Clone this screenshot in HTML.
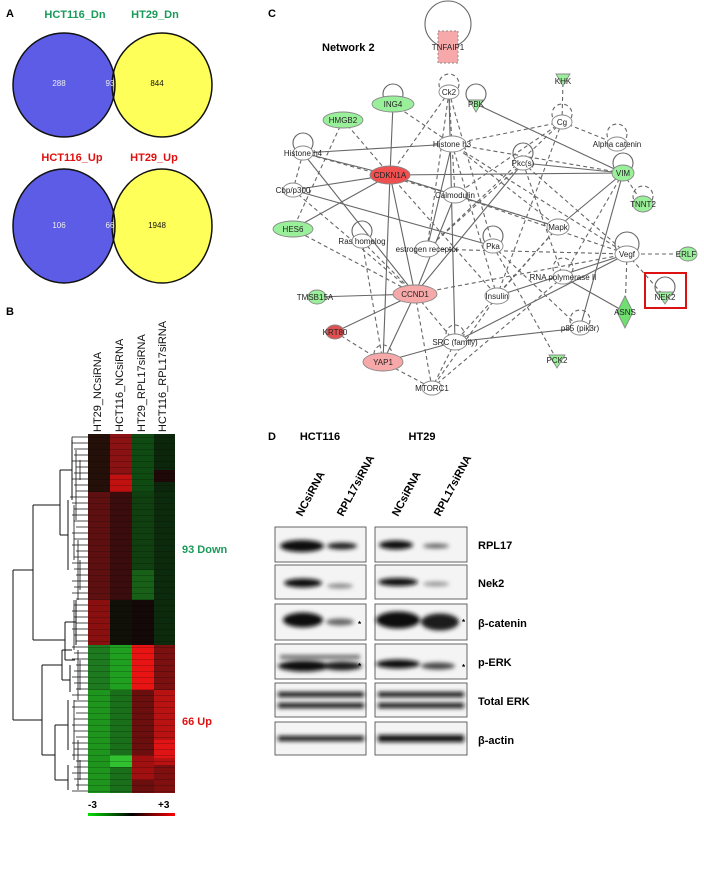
<!DOCTYPE html>
<html><head><meta charset="utf-8"><style>
body{margin:0;background:#fff;width:704px;height:896px;overflow:hidden}
svg{display:block}
text{font-family:"Liberation Sans",Arial,sans-serif}
</style></head><body>
<svg width="704" height="896" viewBox="0 0 704 896" xmlns="http://www.w3.org/2000/svg">
<defs>
<filter id="bl" x="-20%" y="-80%" width="140%" height="260%"><feGaussianBlur stdDeviation="2"/></filter>
<pattern id="rows" width="10" height="6" patternUnits="userSpaceOnUse"><rect width="10" height="6" fill="none"/><line x1="0" y1="5.6" x2="10" y2="5.6" stroke="#000" stroke-opacity="0.25" stroke-width="0.8"/></pattern>
<linearGradient id="cb"><stop offset="0" stop-color="#00e000"/><stop offset="0.5" stop-color="#000"/><stop offset="1" stop-color="#ff0000"/></linearGradient>
</defs>

<!-- Panel A -->
<text x="6" y="17" font-size="11" font-weight="bold">A</text>
<text x="75" y="18" font-size="11" font-weight="bold" fill="#1a9a5a" text-anchor="middle">HCT116_Dn</text>
<text x="155" y="18" font-size="11" font-weight="bold" fill="#1a9a5a" text-anchor="middle">HT29_Dn</text>
<ellipse cx="64" cy="85" rx="51" ry="52" fill="#5c5ce6"/>
<ellipse cx="162" cy="85" rx="50" ry="52" fill="#ffff5a"/>
<clipPath id="c1"><ellipse cx="64" cy="85" rx="51" ry="52"/></clipPath>
<ellipse cx="162" cy="85" rx="50" ry="52" fill="#b8b486" clip-path="url(#c1)"/>
<ellipse cx="64" cy="85" rx="51" ry="52" fill="none" stroke="#111" stroke-width="1.5"/>
<ellipse cx="162" cy="85" rx="50" ry="52" fill="none" stroke="#111" stroke-width="1.5"/>
<text x="59" y="86" font-size="8" fill="#eee" text-anchor="middle">288</text>
<text x="110" y="86" font-size="8" fill="#eee" text-anchor="middle">93</text>
<text x="157" y="86" font-size="8" fill="#111" text-anchor="middle">844</text>

<text x="72" y="161" font-size="11" font-weight="bold" fill="#e01010" text-anchor="middle">HCT116_Up</text>
<text x="154" y="161" font-size="11" font-weight="bold" fill="#e01010" text-anchor="middle">HT29_Up</text>
<ellipse cx="64" cy="226" rx="51" ry="57" fill="#5c5ce6"/>
<ellipse cx="162" cy="226" rx="50" ry="57" fill="#ffff5a"/>
<clipPath id="c2"><ellipse cx="64" cy="226" rx="51" ry="57"/></clipPath>
<ellipse cx="162" cy="226" rx="50" ry="57" fill="#b8b486" clip-path="url(#c2)"/>
<ellipse cx="64" cy="226" rx="51" ry="57" fill="none" stroke="#111" stroke-width="1.5"/>
<ellipse cx="162" cy="226" rx="50" ry="57" fill="none" stroke="#111" stroke-width="1.5"/>
<text x="59" y="228" font-size="8" fill="#eee" text-anchor="middle">106</text>
<text x="110" y="228" font-size="8" fill="#eee" text-anchor="middle">66</text>
<text x="157" y="228" font-size="8" fill="#111" text-anchor="middle">1948</text>

<!-- Panel B -->
<text x="6" y="315" font-size="11" font-weight="bold">B</text>
<g font-size="11" fill="#111">
<text transform="translate(101,432) rotate(-90)">HT29_NCsiRNA</text>
<text transform="translate(123,432) rotate(-90)">HCT116_NCsiRNA</text>
<text transform="translate(145,432) rotate(-90)">HT29_RPL17siRNA</text>
<text transform="translate(166,432) rotate(-90)">HCT116_RPL17siRNA</text>
</g>
<g>
<rect x="88" y="434" width="22" height="58" fill="#241008"/>
<rect x="110" y="434" width="22" height="58" fill="#8a1212"/>
<rect x="132" y="434" width="22" height="58" fill="#0f4a12"/>
<rect x="154" y="434" width="21" height="58" fill="#0c260c"/>
<rect x="110" y="475" width="22" height="17" fill="#c01010"/>
<rect x="154" y="470" width="21" height="12" fill="#200808"/>
<rect x="88" y="492" width="22" height="153" fill="#5e1010"/>
<rect x="110" y="492" width="22" height="108" fill="#3a0c0c"/>
<rect x="110" y="600" width="22" height="45" fill="#101008"/>
<rect x="132" y="492" width="22" height="153" fill="#104010"/>
<rect x="132" y="570" width="22" height="30" fill="#186018"/>
<rect x="132" y="600" width="22" height="45" fill="#140808"/>
<rect x="154" y="492" width="21" height="153" fill="#0c2a0c"/>
<rect x="88" y="600" width="22" height="45" fill="#8a1010"/>
<rect x="88" y="645" width="22" height="45" fill="#1e7a1e"/>
<rect x="110" y="645" width="22" height="45" fill="#20a020"/>
<rect x="132" y="645" width="22" height="45" fill="#e81414"/>
<rect x="154" y="645" width="21" height="45" fill="#7a1010"/>
<rect x="88" y="690" width="22" height="103" fill="#1e961e"/>
<rect x="110" y="690" width="22" height="103" fill="#1a701a"/>
<rect x="110" y="755" width="22" height="12" fill="#30c030"/>
<rect x="132" y="690" width="22" height="103" fill="#6a0e0e"/>
<rect x="132" y="755" width="22" height="25" fill="#a01010"/>
<rect x="154" y="690" width="21" height="103" fill="#b81212"/>
<rect x="154" y="740" width="21" height="18" fill="#e01414"/>
<rect x="154" y="765" width="21" height="28" fill="#801010"/>
<rect x="88" y="434" width="87" height="359" fill="url(#rows)"/>
</g>
<rect x="88" y="813" width="87" height="3" fill="url(#cb)"/>
<text x="88" y="808" font-size="10" font-weight="bold">-3</text>
<text x="158" y="808" font-size="10" font-weight="bold">+3</text>
<text x="182" y="553" font-size="11" font-weight="bold" fill="#1a9a5a">93 Down</text>
<text x="182" y="725" font-size="11" font-weight="bold" fill="#e01010">66 Up</text>
<g stroke="#111" stroke-width="1" fill="none">
<path d="M13,570 V720 M13,570 H33 M13,720 H42"/>
<path d="M33,505 V640 M33,505 H60 M33,640 H65"/>
<path d="M60,470 V535 M60,470 H72 M60,535 H68"/>
<path d="M65,622 V660 M65,622 H76 M65,660 H75"/>
<path d="M42,665 V755 M42,665 H62 M42,755 H55"/>
<path d="M55,725 V780 M55,725 H68 M55,780 H68"/>
<path d="M62,650 V680 M62,650 H72 M62,680 H70"/>
<path d="M68,500 V570 M68,700 V750 M68,765 V790 M72,440 V500 M76,600 V645 M70,665 V692"/>
</g>
<g stroke="#111" stroke-width="0.8">
<path d="M72,437H88M72,443H88M74,449H88M74,455H88M72,461H88M76,467H88M74,473H88M72,479H88M74,485H88M76,491H88M70,497H88M72,503H88M74,509H88M72,515H88M74,521H88M76,527H88M72,533H88M74,539H88M72,545H88M76,551H88M74,557H88M72,563H88M74,569H88M76,575H88M72,581H88M74,587H88M72,593H88M76,599H88M74,605H88M72,611H88M74,617H88M76,623H88M72,629H88M74,635H88M76,641H88M72,647H88M74,653H88M72,659H88M76,665H88M74,671H88M72,677H88M74,683H88M76,689H88M72,695H88M74,701H88M72,707H88M76,713H88M74,719H88M72,725H88M74,731H88M76,737H88M72,743H88M74,749H88M72,755H88M76,761H88M74,767H88M72,773H88M74,779H88M76,785H88M72,791H88"/>
<path d="M72,437V500M76,450V520M74,505V560M78,540V600M74,600V650M78,650V700M74,700V760M78,740V790M80,460V480M80,560V590M80,660V690M80,760V780"/>
</g>

<!-- Panel C -->
<text x="268" y="17" font-size="11" font-weight="bold">C</text>
<text x="322" y="51" font-size="11" font-weight="bold">Network 2</text>
<g stroke="#666" stroke-width="1.1" fill="none">
<circle cx="448" cy="24" r="23"/>
<g stroke-dasharray="4,3">
<line x1="449" y1="92" x2="390" y2="175"/><line x1="449" y1="92" x2="455" y2="195"/><line x1="449" y1="92" x2="427" y2="249"/>
<line x1="449" y1="92" x2="493" y2="246"/><line x1="393" y1="104" x2="452" y2="144"/><line x1="303" y1="153" x2="293" y2="190"/>
<line x1="343" y1="120" x2="390" y2="175"/><line x1="562" y1="122" x2="452" y2="144"/><line x1="562" y1="122" x2="617" y2="144"/>
<line x1="562" y1="122" x2="563" y2="80"/><line x1="562" y1="122" x2="427" y2="249"/><line x1="562" y1="122" x2="497" y2="296"/>
<line x1="452" y1="144" x2="623" y2="173"/><line x1="452" y1="144" x2="558" y2="227"/><line x1="452" y1="144" x2="627" y2="254"/>
<line x1="523" y1="163" x2="427" y2="249"/><line x1="523" y1="163" x2="627" y2="254"/><line x1="523" y1="163" x2="563" y2="277"/>
<line x1="390" y1="175" x2="558" y2="227"/><line x1="390" y1="175" x2="497" y2="296"/><line x1="293" y1="190" x2="415" y2="294"/>
<line x1="293" y1="229" x2="415" y2="294"/><line x1="362" y1="241" x2="415" y2="294"/><line x1="362" y1="241" x2="383" y2="362"/>
<line x1="427" y1="249" x2="627" y2="254"/><line x1="493" y1="246" x2="580" y2="328"/><line x1="493" y1="246" x2="557" y2="360"/>
<line x1="627" y1="254" x2="683" y2="254"/><line x1="627" y1="254" x2="625" y2="312"/><line x1="627" y1="254" x2="665" y2="297"/>
<line x1="627" y1="254" x2="415" y2="294"/><line x1="558" y1="227" x2="455" y2="342"/><line x1="558" y1="227" x2="497" y2="296"/>
<line x1="415" y1="294" x2="432" y2="388"/><line x1="383" y1="362" x2="432" y2="388"/><line x1="455" y1="342" x2="432" y2="388"/>
<line x1="497" y1="296" x2="432" y2="388"/><line x1="563" y1="277" x2="432" y2="388"/><line x1="623" y1="173" x2="643" y2="204"/>
<line x1="455" y1="195" x2="627" y2="254"/><line x1="623" y1="173" x2="563" y2="277"/><line x1="335" y1="332" x2="383" y2="362"/>
<line x1="455" y1="342" x2="415" y2="294"/><line x1="562" y1="122" x2="455" y2="195"/>
<line x1="303" y1="153" x2="455" y2="195"/><line x1="343" y1="120" x2="293" y2="229"/><line x1="452" y1="144" x2="497" y2="296"/>
<circle cx="449" cy="84" r="10"/><circle cx="562" cy="114" r="10"/><circle cx="617" cy="134" r="10"/><circle cx="643" cy="196" r="10"/><circle cx="563" cy="268" r="10"/><circle cx="580" cy="320" r="10"/><circle cx="455" cy="334" r="9"/><circle cx="383" cy="354" r="9"/>
</g>
<g>
<line x1="393" y1="104" x2="390" y2="175"/><line x1="476" y1="104" x2="623" y2="173"/><line x1="303" y1="153" x2="452" y2="144"/>
<line x1="390" y1="175" x2="623" y2="173"/><line x1="390" y1="175" x2="303" y2="153"/><line x1="293" y1="190" x2="390" y2="175"/>
<line x1="293" y1="229" x2="390" y2="175"/><line x1="303" y1="153" x2="415" y2="294"/><line x1="390" y1="175" x2="415" y2="294"/>
<line x1="390" y1="175" x2="383" y2="362"/><line x1="449" y1="92" x2="455" y2="342"/><line x1="455" y1="195" x2="415" y2="294"/>
<line x1="523" y1="163" x2="415" y2="294"/><line x1="315" y1="297" x2="415" y2="294"/><line x1="335" y1="332" x2="415" y2="294"/>
<line x1="383" y1="362" x2="415" y2="294"/><line x1="455" y1="342" x2="580" y2="328"/><line x1="580" y1="328" x2="623" y2="173"/>
<line x1="497" y1="296" x2="627" y2="254"/><line x1="455" y1="342" x2="627" y2="254"/><line x1="558" y1="227" x2="623" y2="173"/>
<line x1="563" y1="277" x2="625" y2="312"/><line x1="390" y1="175" x2="558" y2="227"/><line x1="293" y1="190" x2="493" y2="246"/>
<line x1="383" y1="362" x2="455" y2="342"/><line x1="452" y1="144" x2="427" y2="249"/><line x1="623" y1="173" x2="523" y2="163"/>
<circle cx="393" cy="94" r="10" fill="none"/><circle cx="476" cy="94" r="10" fill="none"/><circle cx="303" cy="143" r="10" fill="none"/><circle cx="523" cy="153" r="10" fill="none"/><circle cx="623" cy="163" r="10" fill="none"/><circle cx="627" cy="244" r="12" fill="none"/><circle cx="665" cy="287" r="10" fill="none"/><circle cx="362" cy="231" r="10" fill="none"/><circle cx="493" cy="236" r="10" fill="none"/>
</g>
</g>
<g stroke="#888" stroke-width="0.9">
<rect x="438" y="31" width="20" height="32" fill="#f7a8a8" stroke-dasharray="2,2"/>
<g fill="#fff">
<ellipse cx="449" cy="92" rx="10" ry="7"/><ellipse cx="562" cy="122" rx="10" ry="7"/><ellipse cx="452" cy="144" rx="14" ry="8"/>
<ellipse cx="617" cy="144" rx="10" ry="7"/><ellipse cx="303" cy="153" rx="10" ry="7"/><ellipse cx="523" cy="163" rx="10" ry="7"/>
<ellipse cx="293" cy="190" rx="10" ry="7"/><ellipse cx="455" cy="195" rx="12" ry="8"/><ellipse cx="558" cy="227" rx="11" ry="8"/>
<ellipse cx="362" cy="241" rx="10" ry="7"/><ellipse cx="427" cy="249" rx="12" ry="8"/><ellipse cx="493" cy="246" rx="10" ry="7"/>
<ellipse cx="627" cy="254" rx="12" ry="8"/><ellipse cx="563" cy="277" rx="10" ry="7"/><ellipse cx="497" cy="296" rx="12" ry="8"/>
<ellipse cx="580" cy="328" rx="10" ry="7"/><ellipse cx="455" cy="342" rx="12" ry="8"/><ellipse cx="432" cy="388" rx="10" ry="7"/>
</g>
<g fill="#9af09a">
<ellipse cx="393" cy="104" rx="21" ry="8"/><ellipse cx="343" cy="120" rx="20" ry="8"/><ellipse cx="623" cy="173" rx="11" ry="8"/>
<ellipse cx="643" cy="204" rx="10" ry="8"/><ellipse cx="293" cy="229" rx="20" ry="8"/><ellipse cx="688" cy="254" rx="9" ry="7"/>
<ellipse cx="317" cy="297" rx="9" ry="7"/>
<path d="M556,74H570L563,86Z"/><path d="M469,100H483L476,112Z"/><path d="M657,292H673L665,304Z"/><path d="M549,355H565L557,368Z"/>
<path d="M625,296L633,312L625,328L617,312Z" fill="#6fe06f"/>
</g>
<ellipse cx="390" cy="175" rx="20" ry="9" fill="#f05050"/>
<ellipse cx="415" cy="294" rx="22" ry="9" fill="#f7a8a8"/>
<ellipse cx="383" cy="362" rx="20" ry="9" fill="#f7a8a8"/>
<ellipse cx="335" cy="332" rx="9" ry="7" fill="#e05050"/>
</g>
<rect x="645" y="273" width="41" height="35" fill="none" stroke="#dd1111" stroke-width="2"/>
<g font-size="8" fill="#222" text-anchor="middle">
<text x="448" y="50">TNFAIP1</text><text x="449" y="95">Ck2</text><text x="563" y="84">KHK</text><text x="476" y="107">PBK</text>
<text x="393" y="107">ING4</text><text x="343" y="123">HMGB2</text><text x="562" y="125">Cg</text><text x="452" y="147">Histone h3</text>
<text x="617" y="147">Alpha catenin</text><text x="303" y="156">Histone h4</text><text x="523" y="166">Pkc(s)</text>
<text x="390" y="178">CDKN1A</text><text x="623" y="176">VIM</text><text x="293" y="193">Cbp/p300</text><text x="455" y="198">Calmodulin</text>
<text x="643" y="207">TNNT2</text><text x="293" y="232">HES6</text><text x="558" y="230">Mapk</text><text x="362" y="244">Ras homolog</text>
<text x="427" y="252">estrogen receptor</text><text x="493" y="249">Pka</text><text x="627" y="257">Vegf</text><text x="686" y="257">ERLF</text>
<text x="563" y="280">RNA polymerase II</text><text x="665" y="300">NEK2</text><text x="315" y="300">TMSB15A</text><text x="415" y="297">CCND1</text>
<text x="497" y="299">Insulin</text><text x="625" y="315">ASNS</text><text x="335" y="335">KRT80</text><text x="580" y="331">p85 (pik3r)</text>
<text x="455" y="345">SRC (family)</text><text x="383" y="365">YAP1</text><text x="557" y="363">PCK2</text><text x="432" y="391">MTORC1</text>
</g>

<!-- Panel D -->
<text x="268" y="440" font-size="11" font-weight="bold">D</text>
<text x="320" y="440" font-size="11" font-weight="bold" text-anchor="middle">HCT116</text>
<text x="422" y="440" font-size="11" font-weight="bold" text-anchor="middle">HT29</text>
<g font-size="11" font-weight="bold">
<text transform="translate(302,517) rotate(-62)">NCsiRNA</text>
<text transform="translate(343,517) rotate(-62)">RPL17siRNA</text>
<text transform="translate(398,517) rotate(-62)">NCsiRNA</text>
<text transform="translate(440,517) rotate(-62)">RPL17siRNA</text>
</g>
<g fill="#f4f4f4" stroke="#555" stroke-width="0.9">
<rect x="275" y="527" width="91" height="35"/><rect x="375" y="527" width="92" height="35"/>
<rect x="275" y="565" width="91" height="34"/><rect x="375" y="565" width="92" height="34"/>
<rect x="275" y="604" width="91" height="36"/><rect x="375" y="604" width="92" height="36"/>
<rect x="275" y="644" width="91" height="35"/><rect x="375" y="644" width="92" height="35"/>
<rect x="275" y="683" width="91" height="34"/><rect x="375" y="683" width="92" height="34"/>
<rect x="275" y="722" width="91" height="33"/><rect x="375" y="722" width="92" height="33"/>
</g>
<g fill="#111" filter="url(#bl)">
<ellipse cx="302" cy="546" rx="22" ry="6"/><ellipse cx="342" cy="546" rx="15" ry="3.5" fill="#222"/>
<ellipse cx="396" cy="545" rx="17" ry="4.5"/><ellipse cx="436" cy="546" rx="13" ry="2.5" fill="#666"/>
<ellipse cx="303" cy="583" rx="19" ry="4.5"/><ellipse cx="340" cy="586" rx="13" ry="2.5" fill="#888"/>
<ellipse cx="398" cy="582" rx="20" ry="4"/><ellipse cx="436" cy="584" rx="13" ry="2.5" fill="#999"/>
<ellipse cx="303" cy="620" rx="20" ry="7.5"/><ellipse cx="340" cy="622" rx="14" ry="3.5" fill="#666"/>
<ellipse cx="398" cy="620" rx="22" ry="8.5"/><ellipse cx="440" cy="622" rx="19" ry="8.5" fill="#1a1a1a"/>
<ellipse cx="304" cy="666" rx="26" ry="5.5"/><ellipse cx="342" cy="666" rx="20" ry="4.5" fill="#1a1a1a"/>
<rect x="280" y="655" width="80" height="4" fill="#666"/>
<ellipse cx="398" cy="664" rx="22" ry="4.5"/><ellipse cx="438" cy="666" rx="17" ry="3.5" fill="#444"/>
<rect x="278" y="692" width="86" height="5"/><rect x="278" y="703" width="86" height="5"/>
<rect x="378" y="692" width="86" height="5"/><rect x="378" y="703" width="86" height="5"/>
<rect x="278" y="736" width="86" height="5"/><rect x="378" y="735" width="86" height="7"/>
</g>
<g font-size="8" font-weight="bold"><text x="358" y="627">*</text><text x="462" y="625">*</text><text x="358" y="669">*</text><text x="462" y="670">*</text></g>
<g font-size="11" font-weight="bold">
<text x="478" y="549">RPL17</text><text x="478" y="587">Nek2</text><text x="478" y="627">β-catenin</text>
<text x="478" y="666">p-ERK</text><text x="478" y="705">Total ERK</text><text x="478" y="744">β-actin</text>
</g>
</svg>
</body></html>
